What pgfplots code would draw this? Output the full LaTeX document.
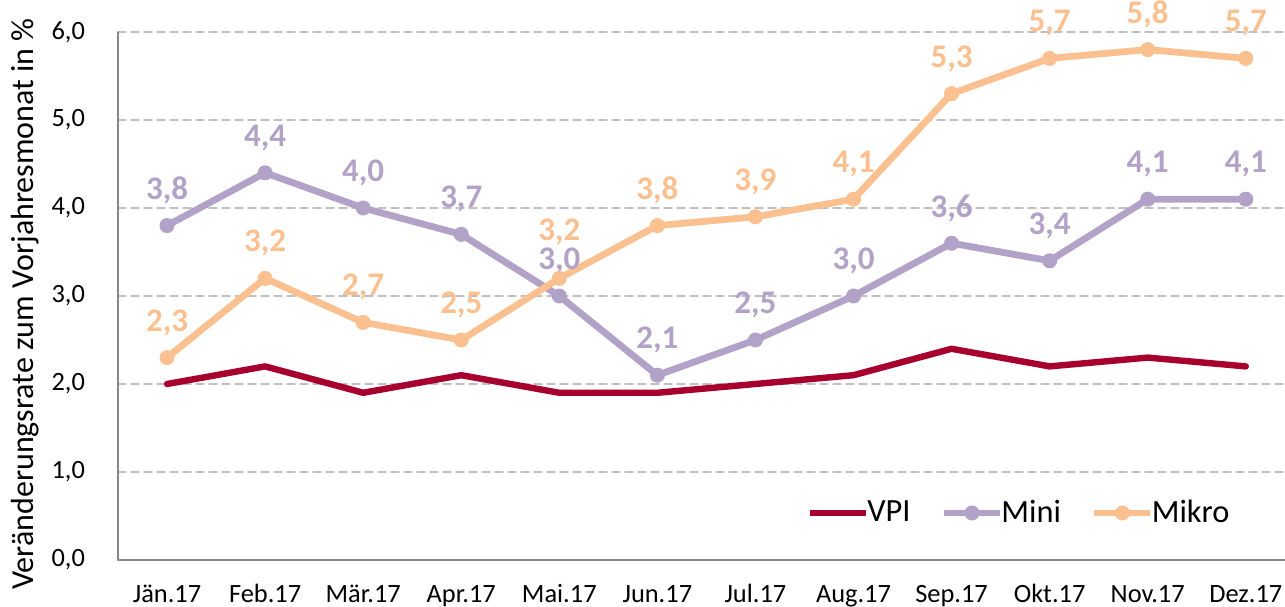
\documentclass[border=0pt]{standalone}
\usepackage{fontspec}
\setmainfont{Carlito}
\usepackage{pgfplots}
\pgfplotsset{compat=1.18}
\usepackage{pgfplotstable}
\definecolor{vpic}{RGB}{168,0,46}
\definecolor{minic}{RGB}{179,162,199}
\definecolor{mikroc}{RGB}{250,192,144}
\definecolor{gridc}{RGB}{191,191,191}
\definecolor{axc}{RGB}{134,134,134}
\pgfplotsset{/pgf/number format/assume math mode=true}

\pgfplotstableread{
x vpi mini mikro dmikro
0 2.0 3.8 2.3 0
1 2.2 4.4 3.2 0
2 1.9 4.0 2.7 0
3 2.1 3.7 2.5 0
4 1.9 3.0 3.2 5.5
5 1.9 2.1 3.8 0
6 2.0 2.5 3.9 0
7 2.1 3.0 4.1 0
8 2.4 3.6 5.3 0
9 2.2 3.4 5.7 0
10 2.3 4.1 5.8 0
11 2.2 4.1 5.7 0
}\data

\begin{document}
\begin{tikzpicture}
\begin{axis}[
  name=ax,
  scale only axis, width=583.5pt, height=264pt,
  xmin=-0.5, xmax=11.4, ymin=0, ymax=6,
  axis lines*=left,
  axis line style={draw=axc, line width=0.9pt},
  tick style={draw=none},
  major tick length=0pt,
  xtick={0,1,...,11},
  xticklabels={Jän.17,Feb.17,Mär.17,Apr.17,Mai.17,Jun.17,Jul.17,Aug.17,Sep.17,Okt.17,Nov.17,Dez.17},
  ytick={0,1,...,6},
  yticklabel={\pgfmathprintnumber[fixed,fixed zerofill,precision=1,use comma]{\tick}},
  ymajorgrids,
  grid style={draw=gridc, line width=0.7pt, dash pattern=on 4pt off 2.5pt},
  ticklabel style={font=\fontsize{13.2}{15}\selectfont, text=black},
  xticklabel style={anchor=base, yshift=-21.5pt},
  yticklabel style={xshift=-13pt},
  clip=false,
  legend columns=3,
  legend style={at={(axis description cs:0.59,0.089)}, anchor=west, draw=none, fill=none,
    font=\fontsize{16.2}{18}\selectfont, inner sep=0pt,
    /tikz/every odd column/.append style={column sep=-3pt},
    /tikz/every even column/.append style={column sep=13pt}},
  legend image code/.code={\draw[mark repeat=2,mark phase=2,#1] plot coordinates {(0pt,0pt) (14pt,0pt) (28pt,0pt)};},
  line cap=round, line join=round,
  nodes near coords={\pgfmathprintnumber[fixed,fixed zerofill,precision=1,use comma]{\pgfplotspointmeta}},
  every node near coord/.append style={anchor=center, font=\fontsize{16.5}{18}\selectfont\bfseries},
]
\addplot[vpic, line width=3.2pt, no marks, nodes near coords={}] table[x=x, y=vpi] {\data};
\addlegendentry{VPI}
\addplot[minic, line width=3.4pt, mark=*, mark size=3.5pt, mark options={solid, fill=minic, draw=minic, line width=0.5pt},
  point meta=y, every node near coord/.append style={text=minic, yshift=17.5pt}] table[x=x, y=mini] {\data};
\addlegendentry{Mini}
\addplot[mikroc, line width=3.4pt, mark=*, mark size=3.5pt, mark options={solid, fill=mikroc, draw=mikroc, line width=0.5pt},
  point meta=y, visualization depends on={\thisrow{dmikro} \as \dy},
  every node near coord/.append style={text=mikroc, yshift={17.5pt+\dy pt}}] table[x=x, y=mikro] {\data};
\addlegendentry{Mikro}
\end{axis}
\node[rotate=90, font=\fontsize{16}{18}\selectfont, anchor=center] at ([xshift=-46.5pt, yshift=-4pt]ax.west) {Veränderungsrate zum Vorjahresmonat in \%};
\pgfresetboundingbox
\path[use as bounding box] ([xshift=-59pt, yshift=-23.5pt]ax.south west) rectangle ([yshift=16pt]ax.north east);
\end{tikzpicture}
\end{document}
